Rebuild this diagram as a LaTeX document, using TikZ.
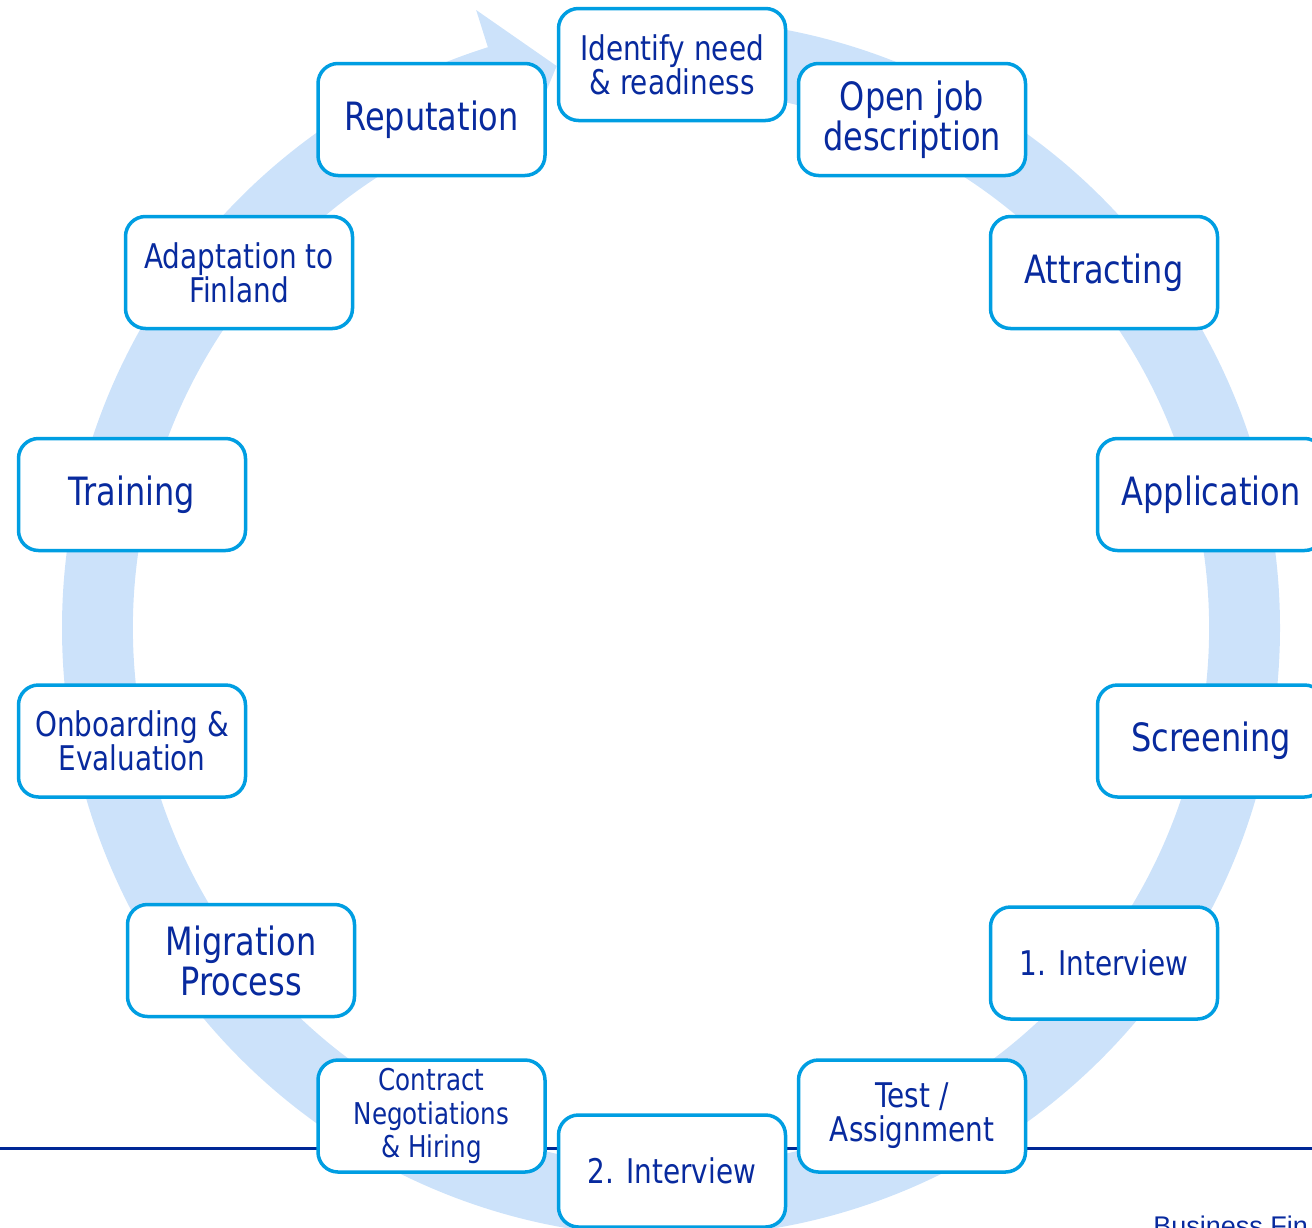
\documentclass[tikz,border=0pt]{standalone}
\usepackage{fontspec}
\setmainfont{DejaVu Sans}[FakeStretch=0.82]
\newfontfamily\footfont{Liberation Sans}
\definecolor{ringblue}{RGB}{204,226,250}
\definecolor{edgeblue}{RGB}{0,158,226}
\definecolor{textblue}{RGB}{8,42,158}
\definecolor{rulerblue}{RGB}{0,40,150}

\tikzset{
  stage/.style={draw=edgeblue, line width=1.75pt, fill=white, rounded corners=10pt,
    minimum width=113.5pt, minimum height=56pt, inner sep=2pt, align=center, text=textblue},
  bigstage/.style={stage, font=\fontsize{19.5pt}{20pt}\selectfont},
  smallstage/.style={stage, font=\fontsize{17pt}{17pt}\selectfont},
  tinystage/.style={stage, font=\fontsize{15pt}{16.75pt}\selectfont}
}

\begin{document}
\begin{tikzpicture}[x=0.5pt, y=0.5pt]
\useasboundingbox (0,0) rectangle (1312,-1227);
% circular arrow behind the stages
\begin{scope}[shift={(671,-628)}]
  \fill[ringblue] (90:609) arc[start angle=90, end angle=-252.5, radius=609]
    -- (-252.5:648) -- (-258.5:573.5) -- (-252.5:499)
    -- (-252.5:538) arc[start angle=-252.5, end angle=90, radius=538] -- cycle;
\end{scope}
% footer rule
\coordinate (ruleL) at (0,-1148);
\coordinate (ruleR) at (1312,-1148);
\draw[rulerblue, line width=1.5pt] (ruleL) -- (ruleR);
% stages, clockwise from the top
\node[smallstage] (need) at (672,-64.5) {Identify need\\\& readiness};
\node[bigstage] (jobdesc) at (912,-119.5) {Open job\\description};
\node[bigstage] (attract) at (1104,-272.5) {Attracting};
\node[bigstage] (apply) at (1211,-494.5) {Application};
\node[bigstage] (screen) at (1211,-741) {Screening};
\node[smallstage] (intone) at (1104,-963) {1. Interview};
\node[smallstage] (test) at (912,-1116) {Test /\\Assignment};
\node[smallstage] (inttwo) at (672,-1171) {2. Interview};
\node[tinystage] (contract) at (431.5,-1116) {Contract\\Negotiations\\\& Hiring};
\node[bigstage] (migration) at (241,-960.5) {Migration\\Process};
\node[smallstage] (onboard) at (132,-741) {Onboarding \&\\Evaluation};
\node[bigstage] (training) at (132,-494.5) {Training};
\node[smallstage] (adapt) at (239,-272.5) {Adaptation to\\Finland};
\node[bigstage] (reputation) at (431.5,-119.5) {Reputation};
% footer text, cut by the page edge
\node[anchor=north west, inner sep=0pt, text=textblue,
  font=\footfont\fontsize{13.5pt}{15pt}\selectfont] (footer) at (1153,-1216) {Business Fin};
\end{tikzpicture}
\end{document}
